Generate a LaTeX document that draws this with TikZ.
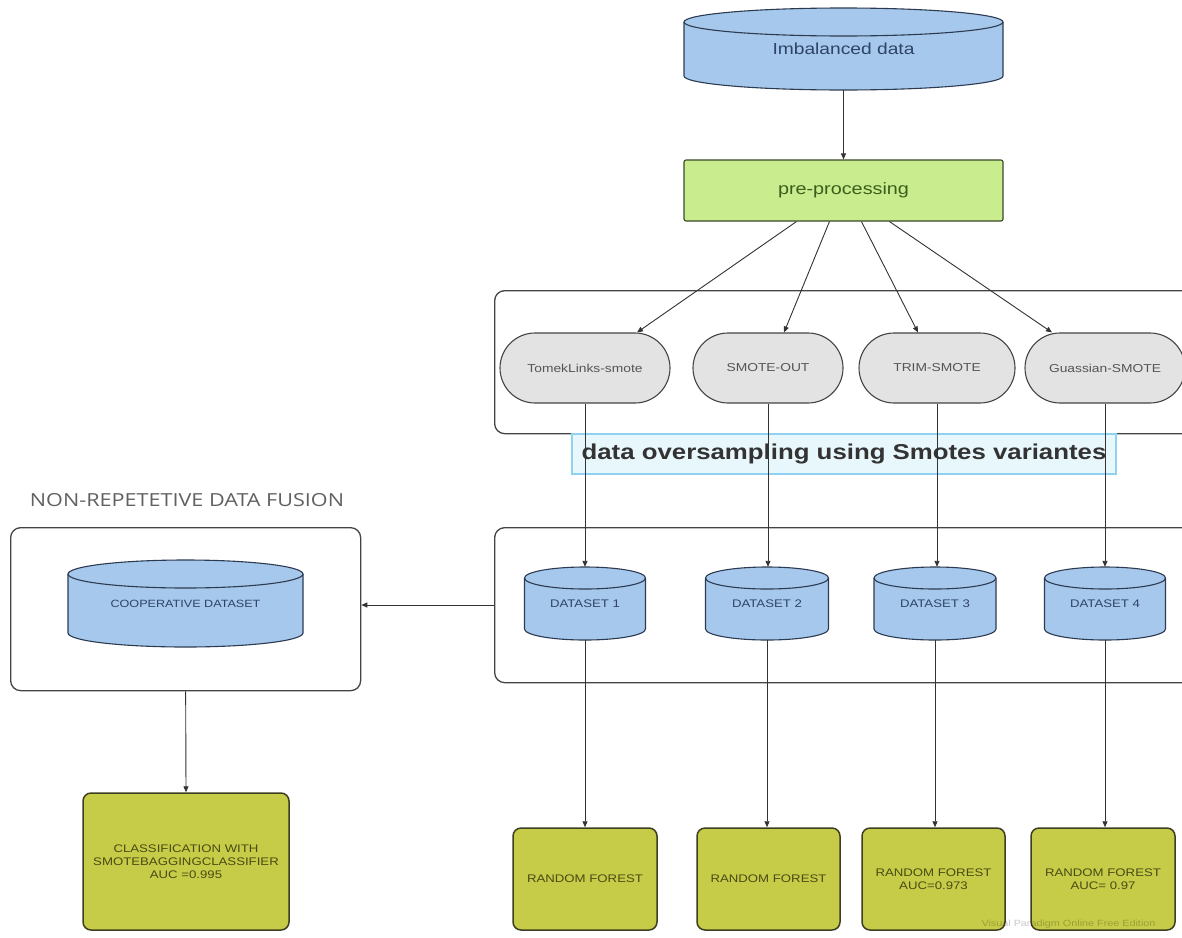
\documentclass[tikz,border=0pt]{standalone}
\usepackage{fontspec}
\setmainfont{Liberation Sans}[FakeStretch=1.2]
\newfontfamily\titlefont{Open Sans}[FakeStretch=1.2]
\usetikzlibrary{arrows.meta,shapes.misc,calc}
\definecolor{cylfill}{HTML}{A6C8EC}
\definecolor{cylline}{HTML}{2C3B52}
\definecolor{cyltxt}{HTML}{2E4466}
\definecolor{prefill}{HTML}{C8EC8E}
\definecolor{preline}{HTML}{3A4A28}
\definecolor{pretxt}{HTML}{3C5E1C}
\definecolor{ovfill}{HTML}{E3E3E3}
\definecolor{ovline}{HTML}{444444}
\definecolor{ovtxt}{HTML}{555555}
\definecolor{olfill}{HTML}{C6CC48}
\definecolor{olline}{HTML}{3E3E22}
\definecolor{oltxt}{HTML}{4A4A14}
\definecolor{labfill}{HTML}{E8F7FC}
\definecolor{labline}{HTML}{8FD3F0}
\definecolor{grpline}{HTML}{444444}
\definecolor{conn}{HTML}{333333}
\newcommand{\dbcyl}[8]{%
  \pgfmathsetmacro{\cxL}{#2-(#4)/2}%
  \pgfmathsetmacro{\cxR}{#2+(#4)/2}%
  \pgfmathsetmacro{\cyT}{-(#3)-(#6)}%
  \pgfmathsetmacro{\cyB}{-(#3)-(#5)+(#6)}%
  \pgfmathsetmacro{\cyM}{-(#3)-(#5)/2}%
  \path[cylbody] (\cxL,\cyT) -- (\cxL,\cyB) arc[start angle=180,end angle=360,x radius=#4/2,y radius=#6] -- (\cxR,\cyT) arc[start angle=0,end angle=180,x radius=#4/2,y radius=#6] -- cycle;
  \draw[cylbody,fill=none] (\cxL,\cyT) arc[start angle=180,end angle=360,x radius=#4/2,y radius=#6];
  \node[minimum width=#4, minimum height=#5, inner sep=0, font=#7, text=cyltxt] (#1) at (#2,\cyM) {#8};
}
\tikzset{
  cylbody/.style={fill=cylfill, draw=cylline, line width=1.1pt},
  groupbox/.style={draw=grpline, line width=1.3pt, rounded corners=10pt, anchor=north west, inner sep=0},
  greenbox/.style={draw=preline, fill=prefill, line width=1.1pt, rounded corners=2pt, text=pretxt, font=\fontsize{16.5}{19}\selectfont, inner sep=0},
  oval/.style={rounded rectangle, draw=ovline, fill=ovfill, line width=1.1pt, minimum height=70, text=ovtxt, font=\fontsize{11.5}{13}\selectfont, inner sep=0},
  olive/.style={draw=olline, fill=olfill, line width=1.5pt, rounded corners=8pt, text=oltxt, font=\fontsize{11}{13}\selectfont, align=center, inner sep=0},
  labbox/.style={draw=labline, fill=labfill, line width=2.5pt, inner sep=0, font=\bfseries\fontsize{21.5}{26}\selectfont, text=black!80},
  conn/.style={draw=conn, line width=0.9pt, -{Triangle[length=6pt,width=5pt]}},
}
\begin{document}
\begin{tikzpicture}[x=1pt,y=1pt]
\clip (0,0) rectangle (1182,-937);
\fill[white] (0,0) rectangle (1182,-937);

% groups
\node[groupbox, minimum width=720, minimum height=143] (grp1) at (494,-290) {};
\node[groupbox, minimum width=720, minimum height=155] (grp2) at (494,-527) {};
\node[groupbox, minimum width=350, minimum height=163] (fusion) at (10,-527) {};
\node[font=\titlefont\fontsize{18}{21}\selectfont, text=black!62] (fusiontitle) at (187,-500) {NON-REPETETIVE DATA FUSION};

% top
\dbcyl{imb}{843.5}{8}{319}{82}{14}{\fontsize{16}{19}\selectfont}{Imbalanced data}
\node[greenbox, minimum width=319, minimum height=61] (pre) at (843.5,-190.5) {pre-processing};

% ovals
\node[oval, minimum width=170] (o1) at (585,-368) {TomekLinks-smote};
\node[oval, minimum width=150] (o2) at (768,-368) {SMOTE-OUT};
\node[oval, minimum width=156] (o3) at (937,-368) {TRIM-SMOTE};
\node[oval, minimum width=160] (o4) at (1105,-368) {Guassian-SMOTE};

% label
\node[labbox, minimum width=544, minimum height=40] (lab) at (844,-454) {data oversampling using Smotes variantes};

% datasets
\dbcyl{ds1}{585}{567}{121}{73}{11}{\fontsize{11}{13}\selectfont}{DATASET 1}
\dbcyl{ds2}{767}{567}{123}{73}{11}{\fontsize{11}{13}\selectfont}{DATASET 2}
\dbcyl{ds3}{935}{567}{122}{73}{11}{\fontsize{11}{13}\selectfont}{DATASET 3}
\dbcyl{ds4}{1105}{567}{121}{73}{11}{\fontsize{11}{13}\selectfont}{DATASET 4}
\dbcyl{coop}{185.5}{560}{235}{87}{14}{\fontsize{10.5}{13}\selectfont}{COOPERATIVE DATASET}

% olive boxes
\node[olive, minimum width=206, minimum height=137] (cls) at (186,-861.5) {CLASSIFICATION WITH\\SMOTEBAGGINGCLASSIFIER\\AUC =0.995};
\node[olive, minimum width=144, minimum height=102] (rf1) at (585,-879) {RANDOM FOREST};
\node[olive, minimum width=143, minimum height=102] (rf2) at (768.5,-879) {RANDOM FOREST};
\node[olive, minimum width=143, minimum height=102] (rf3) at (933.5,-879) {RANDOM FOREST\\AUC=0.973};
\node[olive, minimum width=144, minimum height=102] (rf4) at (1103,-879) {RANDOM FOREST\\AUC= 0.97};

% connectors
\draw[conn] (imb.south) -- (pre.north);
\draw[conn] ($(pre.south west)+(113,0)$) -- ($(o1.north)+(52,0)$);
\draw[conn] ($(pre.south west)+(146,0)$) -- ($(o2.north)+(16,0)$);
\draw[conn] ($(pre.south west)+(178,0)$) -- ($(o3.north)+(-19,0)$);
\draw[conn] ($(pre.south west)+(206,0)$) -- ($(o4.north)+(-53,0)$);
\draw[conn] (o1.south) -- (o1.south |- ds1.north);
\draw[conn] (o2.south) -- (o2.south |- ds2.north);
\draw[conn] (o3.south) -- (o3.south |- ds3.north);
\draw[conn] (o4.south) -- (o4.south |- ds4.north);
\draw[conn] (ds1.south) -- (ds1.south |- rf1.north);
\draw[conn] (ds2.south) -- (ds2.south |- rf2.north);
\draw[conn] (ds3.south) -- (ds3.south |- rf3.north);
\draw[conn] (ds4.south) -- (ds4.south |- rf4.north);
\draw[conn] (grp2.west |- 0,-605) -- (fusion.east |- 0,-605);
\draw[conn] (fusion.south) -- (cls.north);

% watermark
\node[anchor=west, text=black, opacity=0.22, font=\fontsize{9}{11}\selectfont] (wm) at (978,-924) {Visual Paradigm Online Free Edition};
\end{tikzpicture}
\end{document}
